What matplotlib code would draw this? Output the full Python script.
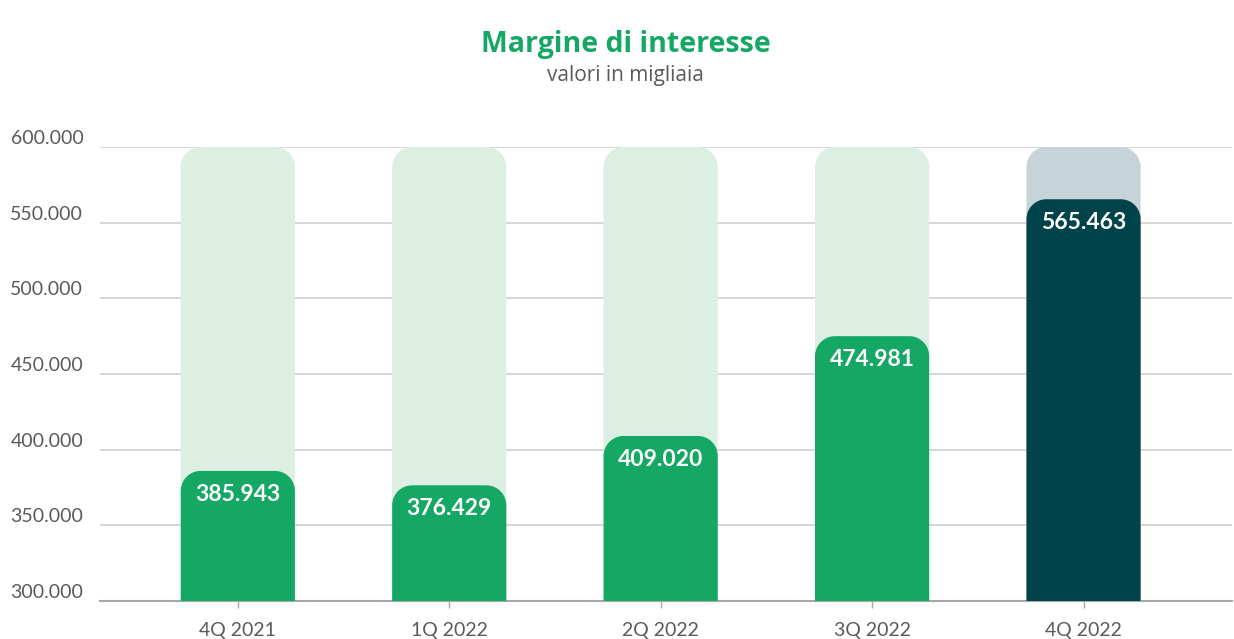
import numpy as np
import matplotlib.pyplot as plt
from matplotlib.path import Path
from matplotlib.patches import PathPatch

# dati (valori in migliaia)
quarters = ["4Q 2021", "1Q 2022", "2Q 2022", "3Q 2022", "4Q 2022"]
margine = [385943, 376429, 409020, 474981, 565463]
y_ticks = [300000, 350000, 400000, 450000, 500000, 550000, 600000]
y_min, y_max = 300000, 600000

GREEN = "#15a864"
GREEN_BG = "#ddeee2"
DARK = "#00434b"
DARK_BG = "#c6d4da"
GRID = "#cfcfcf"
TXT = "#5a5a5a"

plt.rcParams["font.family"] = ["Lato", "DejaVu Sans"]


def fmt(v):
    return f"{v:,}".replace(",", ".")


def round_top(ax, patch, r_px=20, n=16):
    # sostituisce il rettangolo con un path dagli angoli superiori arrotondati
    x0, y0 = patch.get_x(), patch.get_y()
    x1, y1 = x0 + patch.get_width(), y0 + patch.get_height()
    sx, sy = ax.transData.transform((1, 1)) - ax.transData.transform((0, 0))
    rx, ry = r_px / abs(sx), r_px / abs(sy)
    t = np.linspace(np.pi, np.pi / 2, n)
    left = np.column_stack([x0 + rx + rx * np.cos(t), y1 - ry + ry * np.sin(t)])
    t = np.linspace(np.pi / 2, 0, n)
    right = np.column_stack([x1 - rx + rx * np.cos(t), y1 - ry + ry * np.sin(t)])
    verts = np.vstack([[x0, y0], left, right, [x1, y0], [x0, y0]])
    pp = PathPatch(Path(verts, closed=True), facecolor=patch.get_facecolor(),
                   edgecolor="none", zorder=patch.get_zorder())
    patch.set_visible(False)
    ax.add_patch(pp)


fig = plt.figure(figsize=(12.34, 6.39), dpi=100)
ax = fig.add_axes([0.081, 0.0595, 0.917, 0.7105])
ax.set_xlim(-0.652, 4.70)
ax.set_ylim(y_min, y_max)

x = np.arange(len(quarters))
bg_colors = [GREEN_BG] * 4 + [DARK_BG]
fg_colors = [GREEN] * 4 + [DARK]
w = 0.54

bg = ax.bar(x, [y_max - y_min] * len(x), bottom=y_min, width=w, color=bg_colors, zorder=2)
fg = ax.bar(x, [v - y_min for v in margine], bottom=y_min, width=w, color=fg_colors, zorder=3)
for p in list(bg) + list(fg):
    round_top(ax, p)

for xi, v in zip(x, margine):
    ax.annotate(fmt(v), (xi, v), xytext=(0, -17), textcoords="offset points",
                ha="center", va="center", color="white", fontsize=16.5,
                fontweight="bold", zorder=5)

ax.set_yticks(y_ticks)
ax.set_yticklabels([fmt(v) for v in y_ticks])
ax.set_xticks(x)
ax.set_xticklabels(quarters)
ax.grid(axis="y", color=GRID, linewidth=1.2, zorder=1)
ax.set_axisbelow(True)
for s in ["top", "right", "left"]:
    ax.spines[s].set_visible(False)
ax.spines["bottom"].set_color("#a8a8a8")
ax.spines["bottom"].set_linewidth(1.5)
ax.tick_params(axis="y", length=0, pad=12, labelsize=14, labelcolor=TXT)
ax.tick_params(axis="x", length=5, width=1, color="#a8a8a8", pad=10,
               labelsize=14, labelcolor=TXT)
for lab in ax.get_yticklabels():
    lab.set_verticalalignment("bottom")

fig.text(0.507, 0.930, "Margine di interesse", ha="center", va="center",
         fontsize=20.5, fontweight="bold", color=GREEN, family=["Open Sans", "DejaVu Sans"])
fig.text(0.507, 0.882, "valori in migliaia", ha="center", va="center",
         fontsize=15, color=TXT, family=["Open Sans", "DejaVu Sans"])

fig.savefig("out.png", dpi=100)
